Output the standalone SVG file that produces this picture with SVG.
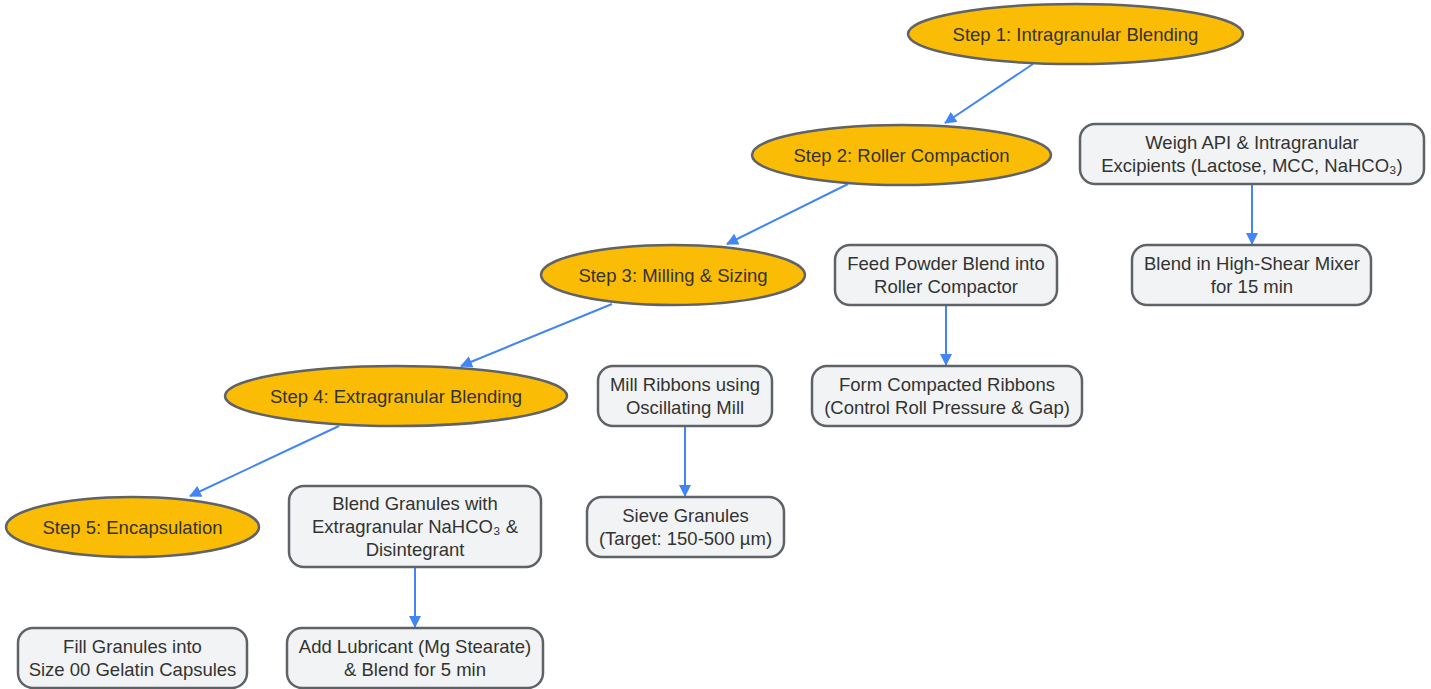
<svg xmlns="http://www.w3.org/2000/svg" width="1431" height="689" viewBox="0 0 1431 689">
<defs>
<marker id="ah" viewBox="0 0 12 12" refX="11" refY="6" markerWidth="12" markerHeight="12" markerUnits="userSpaceOnUse" orient="auto">
<path d="M0,0 L12,6 L0,12 z" fill="#4285f4"/>
</marker>
<style>
.step{fill:#fbbc05;stroke:#5f6368;stroke-width:2.5}
.box{fill:#f1f3f4;stroke:#5f6368;stroke-width:2.5}
text{font-family:"Liberation Sans",Arial,sans-serif;font-size:18.5px;fill:#333;text-anchor:middle}
.conn line{stroke:#4285f4;stroke-width:2;marker-end:url(#ah)}
</style>
</defs>
<rect width="1431" height="689" fill="#fff"/>
<g class="conn" id="connectors">
<line x1="1033" y1="64" x2="945" y2="123"/>
<line x1="848" y1="184" x2="727" y2="244"/>
<line x1="612" y1="304" x2="461" y2="366"/>
<line x1="339" y1="426" x2="190" y2="496"/>
<line x1="1252" y1="185" x2="1252" y2="244"/>
<line x1="946" y1="306" x2="946" y2="365"/>
<line x1="685" y1="427" x2="685" y2="496"/>
<line x1="415" y1="568" x2="415" y2="627"/>
</g>
<g id="step1"><ellipse class="step" cx="1075.5" cy="34" rx="167.5" ry="30"/><text x="1075.5" y="41">Step 1: Intragranular Blending</text></g>
<g id="step2"><ellipse class="step" cx="901.5" cy="155" rx="149.5" ry="30"/><text x="901.5" y="162">Step 2: Roller Compaction</text></g>
<g id="step3"><ellipse class="step" cx="673" cy="275" rx="132" ry="30"/><text x="673" y="282">Step 3: Milling &amp; Sizing</text></g>
<g id="step4"><ellipse class="step" cx="396" cy="396" rx="171" ry="30"/><text x="396" y="403">Step 4: Extragranular Blending</text></g>
<g id="step5"><ellipse class="step" cx="132.5" cy="527" rx="126.5" ry="30"/><text x="132.5" y="534">Step 5: Encapsulation</text></g>
<g id="weigh"><rect class="box" x="1080" y="124" width="344" height="60" rx="15"/><text x="1252" y="149">Weigh API &amp; Intragranular</text><text x="1252" y="172">Excipients (Lactose, MCC, NaHCO₃)</text></g>
<g id="blendmixer"><rect class="box" x="1132" y="245" width="239" height="60" rx="15"/><text x="1252" y="270">Blend in High-Shear Mixer</text><text x="1252" y="293">for 15 min</text></g>
<g id="feed"><rect class="box" x="835" y="245" width="222" height="60" rx="15"/><text x="946" y="270">Feed Powder Blend into</text><text x="946" y="293">Roller Compactor</text></g>
<g id="form"><rect class="box" x="812" y="366" width="270" height="60" rx="15"/><text x="947" y="391">Form Compacted Ribbons</text><text x="947" y="414">(Control Roll Pressure &amp; Gap)</text></g>
<g id="mill"><rect class="box" x="598" y="366" width="174" height="60" rx="15"/><text x="685" y="391">Mill Ribbons using</text><text x="685" y="414">Oscillating Mill</text></g>
<g id="sieve"><rect class="box" x="587" y="497" width="197" height="60" rx="15"/><text x="685.5" y="522">Sieve Granules</text><text x="685.5" y="545">(Target: 150-500 µm)</text></g>
<g id="blendgran"><rect class="box" x="289" y="486" width="252" height="81" rx="15"/><text x="415" y="510">Blend Granules with</text><text x="415" y="533">Extragranular NaHCO₃ &amp;</text><text x="415" y="556">Disintegrant</text></g>
<g id="lubricant"><rect class="box" x="287" y="628" width="256" height="60" rx="15"/><text x="415" y="653">Add Lubricant (Mg Stearate)</text><text x="415" y="676">&amp; Blend for 5 min</text></g>
<g id="fill"><rect class="box" x="18" y="628" width="229" height="60" rx="15"/><text x="132.5" y="653">Fill Granules into</text><text x="132.5" y="676">Size 00 Gelatin Capsules</text></g>
</svg>
